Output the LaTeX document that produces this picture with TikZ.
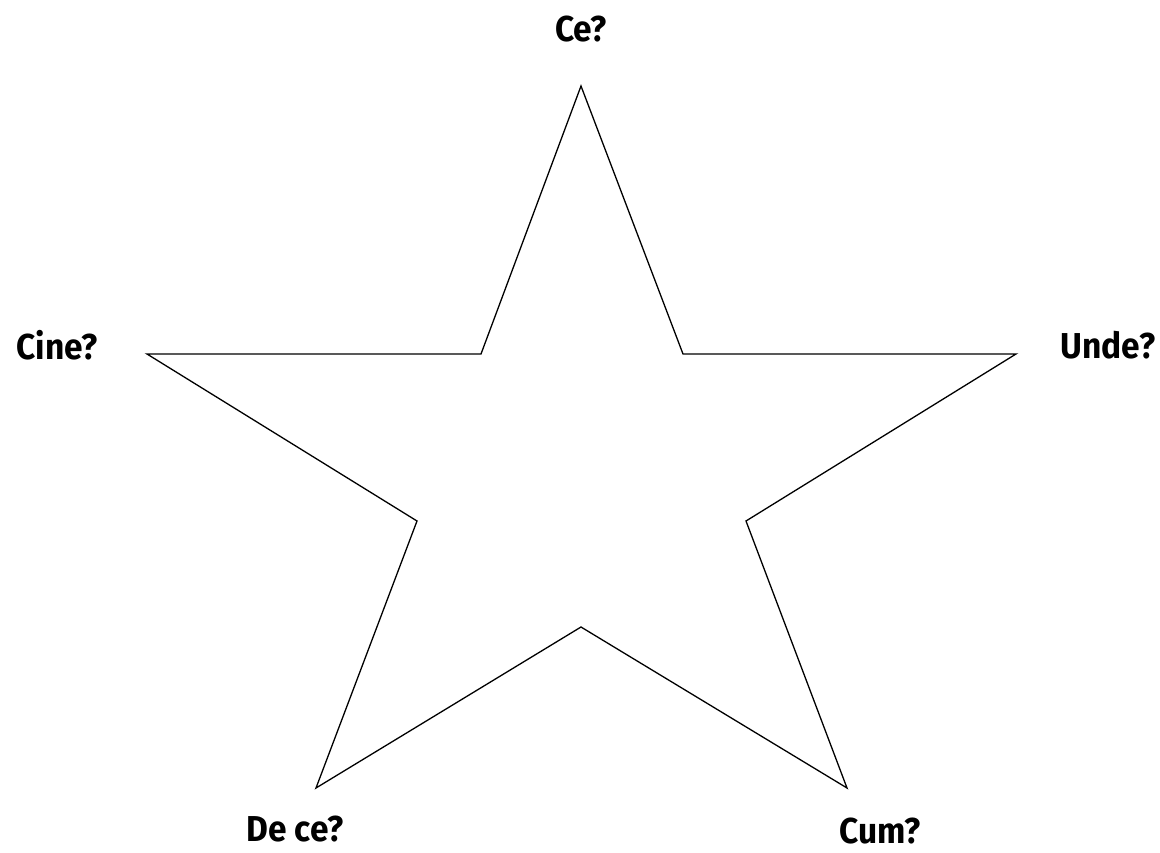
\documentclass[tikz,border=0pt]{standalone}
\usepackage{fontspec}
\setmainfont{Fira Sans}[FakeStretch=0.93]
\begin{document}
\begin{tikzpicture}[x=1pt,y=-1pt,
  lbl/.style={font=\fontsize{36}{42}\selectfont\bfseries, inner sep=0pt},
  starline/.style={draw=black, line width=1.3pt, line join=miter}]
\useasboundingbox (0,0) rectangle (1160,853);
\coordinate (p1) at (581,86);
\coordinate (p2) at (683,354);
\coordinate (p3) at (1016,354);
\coordinate (p4) at (746,521);
\coordinate (p5) at (847,788);
\coordinate (p6) at (581,627);
\coordinate (p7) at (316,788);
\coordinate (p8) at (417,521);
\coordinate (p9) at (147,354);
\coordinate (p10) at (481,354);
\draw[starline] (p1) -- (p2) -- (p3) -- (p4) -- (p5) -- (p6) -- (p7) -- (p8) -- (p9) -- (p10) -- cycle;
\node[lbl] (ce) at (581,29) {Ce?};
\node[lbl] (cine) at (57,345) {Cine?};
\node[lbl] (unde) at (1108,345) {Unde?};
\node[lbl] (dece) at (295,829) {De ce?};
\node[lbl] (cum) at (880,831) {Cum?};
\end{tikzpicture}
\end{document}
